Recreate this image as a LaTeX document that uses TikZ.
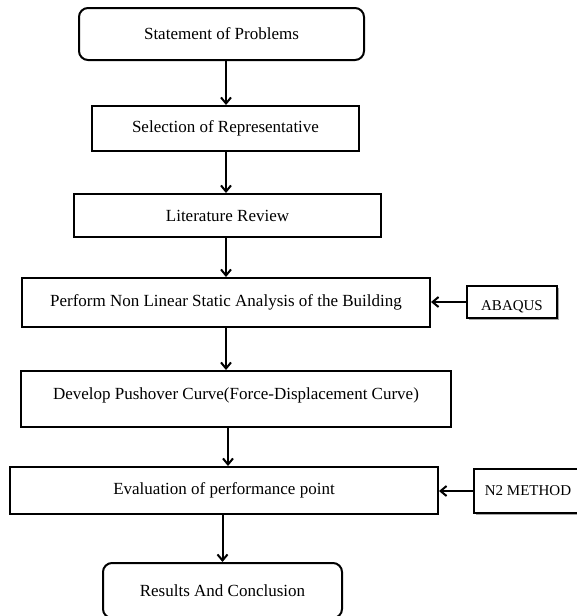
\documentclass[tikz,border=0pt]{standalone}
\usepackage{fontspec}
\setmainfont{Liberation Serif}
\usetikzlibrary{arrows.meta,shadows,positioning}

\tikzset{
	proc/.style={draw, line width=2pt, inner sep=0pt, font=\fontsize{17}{20}\selectfont},
	term/.style={proc, rounded corners=9pt},
	tool/.style={draw, line width=1.2pt, fill=white, inner sep=0pt,
		font=\fontsize{15}{18}\selectfont,
		drop shadow={shadow xshift=1.5pt, shadow yshift=-1.5pt, fill=gray!70, opacity=1}},
	flow/.style={line width=2pt, -{Straight Barb[length=6pt,width=10pt,line width=2pt]}},
}

\begin{document}
\begin{tikzpicture}[x=1pt,y=-1pt]
	\useasboundingbox (0,0) rectangle (577,616);

	% main column
	\node [term, minimum width=285pt, minimum height=52pt] (b1) at (221.5,34) {Statement of Problems};
	\node [proc, minimum width=267pt, minimum height=45pt] (b2) at (225.5,128.5) {Selection of Representative};
	\node [proc, minimum width=307pt, minimum height=43pt] (b3) at (227.5,215.5) {Literature Review};
	\node [proc, minimum width=408pt, minimum height=49pt] (b4) at (226,302.5) {Perform Non Linear Static Analysis of the Building};
	\node [proc, minimum width=430pt, minimum height=56pt, text height=12pt, text depth=12pt] (b5) at (236,399) {Develop Pushover Curve(Force-Displacement Curve)};
	\node [proc, minimum width=428pt, minimum height=47pt] (b6) at (224,490.5) {Evaluation of performance point};
	\node [term, minimum width=239pt, minimum height=55pt] (b7) at (222.5,590.5) {Results And Conclusion};

	% side inputs
	\node [tool, minimum width=90pt, minimum height=32pt, text height=17pt, text depth=0pt] (abaqus) at (512,302) {ABAQUS};
	\node [tool, minimum width=108pt, minimum height=44pt] (n2) at (528,491) {N2 METHOD};

	% arrows
	\draw [flow] (b1.south -| b4) -- (b2.north -| b4);
	\draw [flow] (b2.south -| b4) -- (b3.north -| b4);
	\draw [flow] (b3.south -| b4) -- (b4.north);
	\draw [flow] (b4.south) -- (b5.north -| b4);
	\draw [flow] ([xshift=2pt]b5.south -| b4) -- ([xshift=2pt]b6.north -| b4);
	\draw [flow] (b6.south -| b7) -- (b7.north);

	\draw [flow] (abaqus.west) -- (abaqus.west -| b4.east);
	\draw [flow] (n2.west) -- (n2.west -| b6.east);
\end{tikzpicture}
\end{document}
